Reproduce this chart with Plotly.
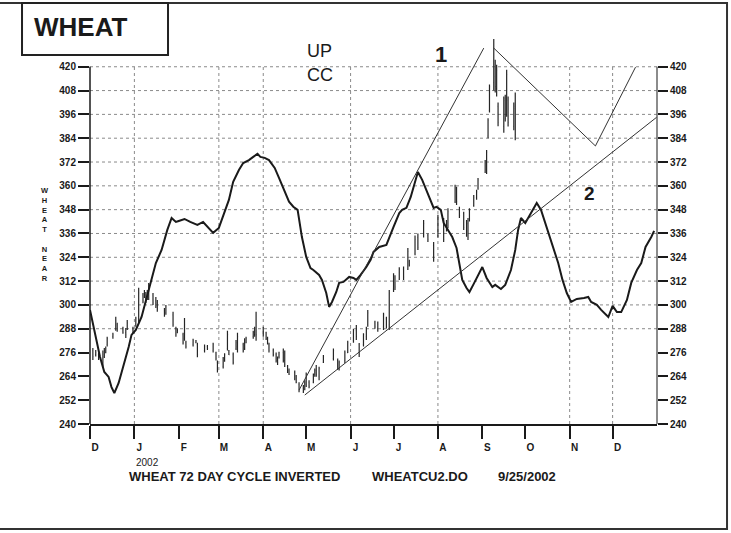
import plotly.graph_objects as go

# ---------------- data ----------------
bar_dates = ["2001-12-03","2001-12-05","2001-12-07","2001-12-10","2001-12-11","2001-12-12","2001-12-13","2001-12-17",
             "2001-12-19","2001-12-20","2001-12-24","2001-12-26","2001-12-27","2001-12-31","2002-01-02","2002-01-04",
             "2002-01-07","2002-01-08","2002-01-09","2002-01-10","2002-01-11","2002-01-14","2002-01-16","2002-01-17",
             "2002-01-22","2002-01-23","2002-01-28","2002-01-30","2002-01-31","2002-02-04","2002-02-05","2002-02-06",
             "2002-02-11","2002-02-13","2002-02-14","2002-02-19","2002-02-21","2002-02-25","2002-02-27","2002-02-28",
             "2002-03-04","2002-03-05","2002-03-07","2002-03-08","2002-03-11","2002-03-13","2002-03-14","2002-03-18",
             "2002-03-19","2002-03-20","2002-03-25","2002-03-26","2002-03-27","2002-04-01","2002-04-03","2002-04-04",
             "2002-04-05","2002-04-08","2002-04-10","2002-04-11","2002-04-12","2002-04-15","2002-04-16","2002-04-18",
             "2002-04-19","2002-04-23","2002-04-24","2002-04-26","2002-04-29","2002-04-30","2002-05-01","2002-05-03",
             "2002-05-06","2002-05-07","2002-05-08","2002-05-10","2002-05-13","2002-05-20","2002-05-23","2002-05-24",
             "2002-05-28","2002-05-30","2002-06-03","2002-06-05","2002-06-07","2002-06-10","2002-06-12","2002-06-13",
             "2002-06-18","2002-06-20","2002-06-24","2002-06-26","2002-06-28","2002-07-01","2002-07-02","2002-07-05",
             "2002-07-08","2002-07-11","2002-07-12","2002-07-16","2002-07-18","2002-07-22","2002-07-25","2002-07-29",
             "2002-08-01","2002-08-05","2002-08-07","2002-08-08","2002-08-13","2002-08-14","2002-08-16","2002-08-19",
             "2002-08-21","2002-08-22","2002-08-23","2002-08-26","2002-08-28","2002-08-29","2002-09-03","2002-09-04",
             "2002-09-05","2002-09-06","2002-09-09","2002-09-10","2002-09-11","2002-09-12","2002-09-16","2002-09-17",
             "2002-09-18","2002-09-19","2002-09-23","2002-09-24"]
bar_high = [278.3,277.3,275.8,277,278.3,279,284,286,294,291,289,288.4,292.4,289,294,308.6,
            306,307.5,306.5,307.5,311,306,304,302.5,298.5,300,296.5,289,288.2,286,293.4,282,
            283,282.3,281,280,279.8,281,276.4,272,273.8,275.6,287,277.3,276,282.3,286,281,
            283.2,284,287,289,296.5,289,286.5,284,281,278,276,274,276.4,278,277,269.7,
            268,267,264.7,261,259.6,262,266,262,265.5,268,269.7,268.9,274.8,278,273,272,
            277,282,288,289.9,280.8,285.7,289,297.5,292,291.6,296,294,307.5,316,315,319,
            319.3,328.7,322.7,335,336,342.8,336,331.7,345.4,343.8,342.8,348.7,360.5,359.6,349.4,347,
            342.8,343.8,348.7,355.4,358,364,373,378,394,411,434,423.5,421,402,405,405.9,
            418.5,405,402,407]
bar_low = [272.3,274,272.3,268.7,273.3,275.6,279,283,287,286.5,285.5,283.3,287.4,285.7,289,291,
           300.8,303.5,301,302.5,302.5,300,298.5,296.6,294,295,289,284,285.7,280,282,278,
           279,280.7,273.6,276,277.3,276,272,266,268,271.4,277,274.8,270,277.3,276,276,
           277.3,280.7,283,284,282,284,282.3,280,276,274,271,269.7,273,271,268.7,265.7,
           264.7,262,260.5,256,255.6,257,258.6,258,260.5,263.8,263.8,262,270.7,272,267.2,267,
           270.7,275.8,281,282.3,273.8,279,282.3,289,288,286.5,287.4,288.2,287.4,306.5,307.5,312.6,
           312.6,317.6,319.3,325,327.7,334,331.7,321.7,334,331.7,337,338.6,351.4,350.4,343.8,337.8,
           334.4,332.7,342,349.4,353,358,366.5,366,384,397,408,407,405,390,386.7,392.4,
           394.8,389.9,388,383]
bar_open = [277,275,275,271,274,276,280,284,288,290,288,286,288,288,290,292,
            305,304,305,303,306,305,302,301,297,296,295,288,286,285,283,281,
            280,281,280,277,279,277,276,271,269,272,278,277,275,278,279,280,
            278,281,284,285,288,288,286,283,280,277,275,273,274,276,272,269,
            267,266,264,260,258,257.5,260,261,261,265,267,264,271,273,272,268,
            272,276,282,287,280,280,284,290,291,288,289,293,290,308,313,313,
            318,318,322,326,334,335,335,330,335,342,338,340,352,358,348,346,
            336,341,343,350,354,359,367,368,385,398,412,421,409,400,390,404,
            396,403,390,399]
bar_close = [274,276,273,275,277,278,283,285,292,288,286,285,291,287,293,306,
             302,306,303,306,309,301,300,298,295,299,290,285,287,281,290,279,
             282,282,275,279,278,280,273,267,273,275,285,275,271,281,284,277,
             282,283,286,288,285,285,283,281,277,275,272,271,276,272,270,266,
             265,263,261,257,256.5,261,265,259,265,267,265,268,274,277,268,271,
             276,281,287,284,275,285,288,296,289,290,295,289,306,314,309,318,
             314,327,320,333,329,341,333,323,344,333,341,347,359,352,345,339,
             341,334,348,354,357,363,372,377,393,410,415,410,418,392,403,394,
             416,392,400,386]

cycle_dates = ["2001-12-01","2001-12-04","2001-12-08","2001-12-11","2001-12-14","2001-12-16","2001-12-18","2001-12-21",
               "2001-12-25","2001-12-28","2001-12-30","2002-01-02","2002-01-06","2002-01-09","2002-01-13","2002-01-16",
               "2002-01-20","2002-01-22","2002-01-24","2002-01-27","2002-01-30","2002-02-01","2002-02-05","2002-02-09",
               "2002-02-14","2002-02-18","2002-02-22","2002-02-25","2002-03-01","2002-03-04","2002-03-08","2002-03-11",
               "2002-03-15","2002-03-18","2002-03-22","2002-03-25","2002-03-28","2002-03-30","2002-04-02","2002-04-05",
               "2002-04-09","2002-04-12","2002-04-15","2002-04-19","2002-04-22","2002-04-25","2002-04-28","2002-05-01",
               "2002-05-04","2002-05-06","2002-05-10","2002-05-12","2002-05-15","2002-05-17","2002-05-19","2002-05-22",
               "2002-05-24","2002-05-27","2002-05-31","2002-06-03","2002-06-05","2002-06-08","2002-06-12","2002-06-15",
               "2002-06-17","2002-06-21","2002-06-26","2002-06-28","2002-07-01","2002-07-05","2002-07-07","2002-07-10",
               "2002-07-13","2002-07-15","2002-07-18","2002-07-21","2002-07-24","2002-07-27","2002-07-29","2002-07-31",
               "2002-08-03","2002-08-05","2002-08-09","2002-08-11","2002-08-14","2002-08-16","2002-08-18","2002-08-21",
               "2002-08-23","2002-08-26","2002-08-30","2002-09-01","2002-09-04","2002-09-08","2002-09-10","2002-09-14",
               "2002-09-17","2002-09-21","2002-09-24","2002-09-26","2002-09-28","2002-10-01","2002-10-05","2002-10-09",
               "2002-10-12","2002-10-15","2002-10-19","2002-10-22","2002-10-24","2002-10-27","2002-10-30","2002-11-02",
               "2002-11-06","2002-11-11","2002-11-14","2002-11-16","2002-11-20","2002-11-23","2002-11-28","2002-12-01",
               "2002-12-04","2002-12-07","2002-12-11","2002-12-14","2002-12-18","2002-12-21","2002-12-24","2002-12-28",
               "2002-12-30"]
cycle_values = [297.5,287.4,273.8,266.2,263.7,258.6,255.6,260.7,
                270.7,278.8,284.9,287.4,293.9,302.5,312.6,321.1,
                327.7,332.7,337.8,343.8,341.8,342.3,343.3,341.8,
                340.3,341.8,338.8,336.3,338.8,345.3,352.9,362,
                368,371.5,373,374.6,376.1,374.6,374.1,373,
                369,364,359,352,349.5,347.9,334.2,324.2,
                318.6,317.6,315.1,312.6,306,299,301.5,306.5,
                311.1,311.6,314.1,313.6,312.6,315.1,319.1,322.7,
                326.7,329.2,330.2,334.2,339.3,346.3,347.9,348.9,
                354.4,359.4,367,363,357.9,351.9,348.9,349.4,
                347.9,341.3,336.3,334.2,328.7,321.1,312.6,308.5,
                306.5,310.6,316.1,319.1,313.6,309,310.1,308,
                310.1,317.6,327.7,337.8,343.8,341.3,346.3,351.4,
                347.9,341.3,332.7,326.7,321.1,312.6,306,301.5,
                303,303.5,304,301.5,300,297.5,293.9,299.5,
                296.4,296.4,302.5,311.1,317.6,321.1,329.2,334.2,
                337.3]

line1_dates = ["2002-04-26", "2002-09-02"]
line1_values = [257.1, 429.4]
line2_dates = ["2002-04-30", "2003-01-01"]
line2_values = [254.6, 394.7]
proj_dates = ["2002-09-09", "2002-11-19", "2002-12-17"]
proj_values = [429.4, 380.1, 419.8]

month_ticks = ["2001-12-01","2002-01-01","2002-02-01","2002-03-01","2002-04-01","2002-05-01","2002-06-01",
               "2002-07-01","2002-08-01","2002-09-01","2002-10-01","2002-11-01","2002-12-01"]
month_labels = ["D","J","F","M","A","M","J","J","A","S","O","N","D"]
price_ticks = [240,252,264,276,288,300,312,324,336,348,360,372,384,396,408,420]
grid_prices = [288,300,312,324,336,348,360,372,384,396,408,420]
grid_months = ["2002-01-01","2002-03-01","2002-04-01","2002-06-01","2002-08-01","2002-11-01","2002-12-01"]
side_title = "W<br>H<br>E<br>A<br>T<br><br>N<br>E<br>A<br>R"

# ---------------- figure ----------------
FONT = "Liberation Sans, Arial, sans-serif"
INK = "#1a1a1a"

fig = go.Figure()

fig.add_trace(go.Scatter(x=cycle_dates, y=cycle_values, mode="lines",
                         line=dict(color=INK, width=2), hoverinfo="skip"))
fig.add_trace(go.Ohlc(x=bar_dates, open=bar_open, high=bar_high, low=bar_low, close=bar_close,
                      increasing=dict(line=dict(color="#262626", width=1.2)),
                      decreasing=dict(line=dict(color="#262626", width=1.2)),
                      tickwidth=0.45, hoverinfo="skip"))
for xs, ys in [(line1_dates, line1_values), (line2_dates, line2_values), (proj_dates, proj_values)]:
    fig.add_trace(go.Scatter(x=xs, y=ys, mode="lines", line=dict(color="#333333", width=1),
                             hoverinfo="skip"))
# carrier for right axis
fig.add_trace(go.Scatter(x=[month_ticks[0]], y=[price_ticks[0]], yaxis="y2", mode="markers",
                         marker=dict(opacity=0), hoverinfo="skip"))

shapes = []
for p in grid_prices:
    shapes.append(dict(type="line", xref="paper", yref="y", x0=0, x1=1, y0=p, y1=p, layer="below",
                       line=dict(color="#8a8a8a", width=1, dash="dot")))
for m in grid_months:
    shapes.append(dict(type="line", xref="x", yref="y", x0=m, x1=m, y0=price_ticks[0], y1=price_ticks[-1],
                       layer="below", line=dict(color="#8a8a8a", width=1, dash="dot")))
# left / right axis lines (only up to 420)
shapes.append(dict(type="line", xref="paper", yref="y", x0=0, x1=0, y0=price_ticks[0], y1=price_ticks[-1],
                   line=dict(color=INK, width=1.5)))
shapes.append(dict(type="line", xref="paper", yref="y", x0=1, x1=1, y0=price_ticks[0], y1=price_ticks[-1],
                   line=dict(color="#666666", width=1.5)))
# outer frame
shapes.append(dict(type="rect", xref="paper", yref="paper", x0=-0.165, x1=1.1235, y0=-0.2699, y1=1.0823,
                   line=dict(color="#333333", width=2)))
# title box
shapes.append(dict(type="rect", xref="paper", yref="paper", x0=-0.1199, x1=0.1376, y0=0.9486, y1=1.0823,
                   fillcolor="white", line=dict(color="#222222", width=2)))

annotations = [
    dict(text="WHEAT", xref="paper", yref="paper", x=-0.1023, y=1.0206, xanchor="left", yanchor="middle",
         showarrow=False, font=dict(family=FONT, size=26, color=INK, weight="bold")),
    dict(text="UP", xref="paper", yref="paper", x=0.3792, y=0.9589, xanchor="left", yanchor="middle",
         showarrow=False, font=dict(family=FONT, size=18, color=INK)),
    dict(text="CC", xref="paper", yref="paper", x=0.3792, y=0.8959, xanchor="left", yanchor="middle",
         showarrow=False, font=dict(family=FONT, size=18, color=INK)),
    dict(text="1", xref="paper", yref="paper", x=0.619, y=0.9486, xanchor="center", yanchor="middle",
         showarrow=False, font=dict(family=FONT, size=22, color=INK, weight="bold")),
    dict(text="2", xref="paper", yref="paper", x=0.8818, y=0.5913, xanchor="center", yanchor="middle",
         showarrow=False, font=dict(family=FONT, size=19, color=INK, weight="bold")),
    dict(text="2002", xref="x", yref="paper", x="2002-01-01", y=-0.0977, xanchor="left", yanchor="middle",
         showarrow=False, font=dict(family=FONT, size=10, color=INK)),
    dict(text="WHEAT 72 DAY CYCLE INVERTED", xref="paper", yref="paper", x=0.0653, y=-0.1337,
         xanchor="left", yanchor="middle", showarrow=False,
         font=dict(family=FONT, size=13, color=INK, weight="bold")),
    dict(text="WHEATCU2.DO", xref="paper", yref="paper", x=0.4938, y=-0.1337,
         xanchor="left", yanchor="middle", showarrow=False,
         font=dict(family=FONT, size=13, color=INK, weight="bold")),
    dict(text="9/25/2002", xref="paper", yref="paper", x=0.7160, y=-0.1337,
         xanchor="left", yanchor="middle", showarrow=False,
         font=dict(family=FONT, size=13, color=INK, weight="bold")),
    dict(text=side_title, xref="paper", yref="paper", x=-0.0794, y=0.4859, xanchor="center",
         yanchor="middle", showarrow=False,
         font=dict(family=FONT, size=7.5, color=INK, weight="bold")),
]

tickfont = dict(family=FONT, size=10, color=INK, weight="bold")
fig.update_layout(
    width=731, height=533,
    margin=dict(l=90, r=74, t=35, b=109),
    paper_bgcolor="white", plot_bgcolor="white",
    showlegend=False,
    shapes=shapes, annotations=annotations,
    xaxis=dict(type="date", range=["2001-12-01", "2003-01-01"], tickvals=month_ticks, ticktext=month_labels,
               ticks="outside", ticklen=13, tickwidth=1.5, tickcolor=INK, showline=True, linecolor=INK,
               linewidth=1.5, showgrid=False, zeroline=False, tickfont=tickfont, ticklabelshift=5,
               rangeslider=dict(visible=False)),
    yaxis=dict(range=[240, 436], tickvals=price_ticks, ticks="outside", ticklen=11, tickwidth=1.5,
               tickcolor=INK, showline=False, showgrid=False, zeroline=False, tickfont=tickfont,
               autorange=False),
    yaxis2=dict(range=[240, 436], overlaying="y", side="right", tickvals=price_ticks, ticks="outside",
                ticklen=10, tickwidth=1.5, tickcolor=INK, showline=False, showgrid=False, zeroline=False,
                tickfont=tickfont, autorange=False),
)

fig.write_html("out.html", config={"displayModeBar": False},
               post_script="document.body.style.margin='0px';")
